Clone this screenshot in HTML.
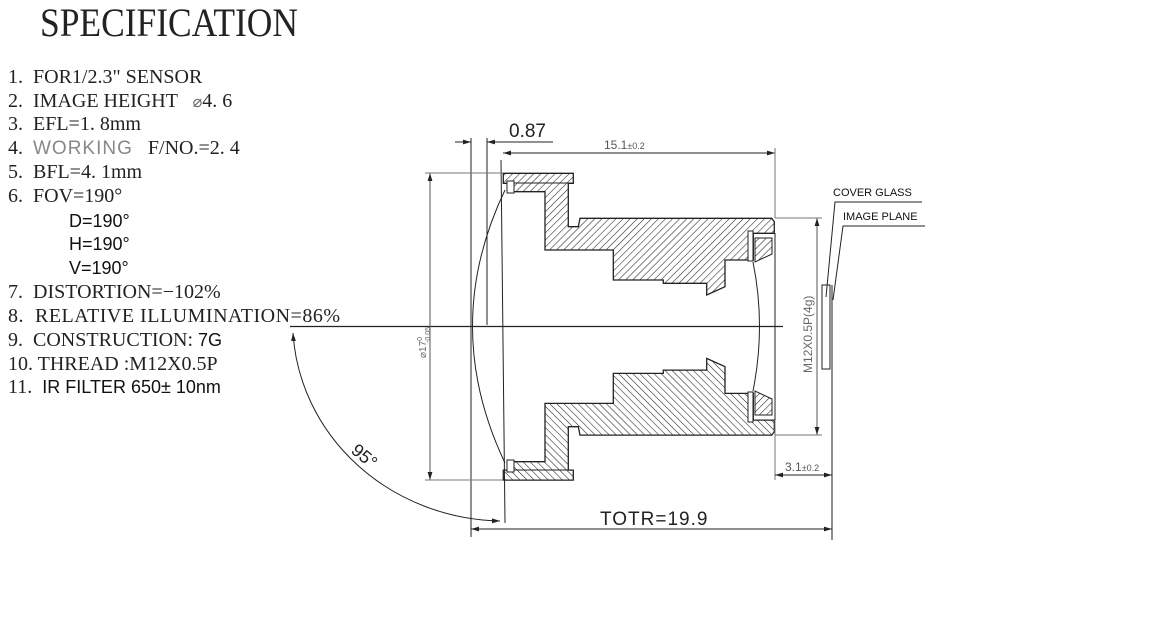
<!DOCTYPE html>
<html><head><meta charset="utf-8"><style>
html,body{margin:0;padding:0;background:#fff;}
svg{display:block;}
text{white-space:pre;}
.s{font-family:"Liberation Serif",serif;font-size:20px;fill:#222;}
.a{font-family:"Liberation Sans",sans-serif;}
</style></head><body>
<svg width="1162" height="623" viewBox="0 0 1162 623" xmlns="http://www.w3.org/2000/svg" xml:space="preserve">
<defs>
<pattern id="h" patternUnits="userSpaceOnUse" width="5" height="5" patternTransform="rotate(45)">
<rect width="5" height="5" fill="#fff"/><line x1="0" y1="0" x2="0" y2="5" stroke="#222" stroke-width="1.1"/>
</pattern>
<marker id="ar" viewBox="0 0 10 10" refX="10" refY="5" markerWidth="8" markerHeight="8" orient="auto-start-reverse"><path d="M0,2 L10,5 L0,8 z" fill="#222"/></marker>
</defs>
<text x="40" y="36" class="s" style="font-size:40px" textLength="258" lengthAdjust="spacingAndGlyphs">SPECIFICATION</text>
<g class="s">
<text x="8" y="83">1.  FOR1/2.3" SENSOR</text>
<text x="8" y="107">2.  IMAGE HEIGHT   <tspan class="a" style="font-size:16px;fill:#666">⌀</tspan>4. 6</text>
<text x="8" y="130">3.  EFL=1. 8mm</text>
<text x="8" y="154">4.  <tspan class="a" style="fill:#888;font-size:19px;letter-spacing:1px">WORKING</tspan>   F/NO.=2. 4</text>
<text x="8" y="178">5.  BFL=4. 1mm</text>
<text x="8" y="202">6.  FOV=190°</text>
<text x="69" y="227" class="a" style="font-size:18px;fill:#111">D=190°</text>
<text x="69" y="250" class="a" style="font-size:18px;fill:#111">H=190°</text>
<text x="69" y="274" class="a" style="font-size:18px;fill:#111">V=190°</text>
<text x="8" y="298">7.  DISTORTION=−102%</text>
<text x="8" y="322" textLength="332" lengthAdjust="spacing">8.  RELATIVE ILLUMINATION=86%</text>
<text x="8" y="346">9.  CONSTRUCTION: <tspan class="a" style="fill:#111;font-size:18px">7G</tspan></text>
<text x="8" y="370">10. THREAD :M12X0.5P</text>
<text x="8" y="393">11.  <tspan class="a" style="fill:#111;font-size:18px">IR FILTER 650± 10nm</tspan></text>
</g>
<g stroke="#222" fill="none" stroke-width="1">
<line x1="290" y1="326.5" x2="783" y2="326.5" stroke-width="1.2"/>
<path fill="url(#h)" stroke-width="1.3" d="M503.3,173.3 L573.3,173.3 L573.3,183.3 L568.3,183.3 L568.3,226.7 L578.3,226.7 L580,218.3 L771.7,218.3 L774.3,221.7 L774.3,233.3 L753.3,233.3 L753.3,260 L725,260 L725,286.7 L706.7,295 L706.7,283.3 L663.3,283.3 L663.3,280 L613.3,280 L613.3,250 L545,250 L545,191.7 L513.3,191.7 L513.3,183.3 L503.3,183.3 Z"/>
<path fill="url(#h)" stroke-width="1.3" transform="translate(0,653.4) scale(1,-1)" d="M503.3,173.3 L573.3,173.3 L573.3,183.3 L568.3,183.3 L568.3,226.7 L578.3,226.7 L580,218.3 L771.7,218.3 L774.3,221.7 L774.3,233.3 L753.3,233.3 L753.3,260 L725,260 L725,286.7 L706.7,295 L706.7,283.3 L663.3,283.3 L663.3,280 L613.3,280 L613.3,250 L545,250 L545,191.7 L513.3,191.7 L513.3,183.3 L503.3,183.3 Z"/>
<path fill="url(#h)" d="M755,238 L772,238 L772,254 L755,262 Z"/>
<path fill="url(#h)" d="M755,415 L772,415 L772,399 L755,391 Z"/>
<rect x="748" y="231" width="5" height="30" fill="#fff"/>
<rect x="748" y="392" width="5" height="30" fill="#fff"/>
<rect x="507" y="181" width="7" height="12" fill="#fff"/>
<rect x="507" y="460" width="7" height="12" fill="#fff"/>
<line x1="514" y1="183" x2="573" y2="183"/><line x1="514" y1="470" x2="573" y2="470"/>
<path d="M505,190 Q440,326 505,463"/>
<path d="M753,262 Q766,326 753,391"/>
<line x1="775" y1="233" x2="775" y2="420"/>
<line x1="471" y1="138" x2="471" y2="537"/>
<line x1="487" y1="138" x2="487" y2="325"/>
<line x1="501" y1="160" x2="505" y2="523"/>
<line x1="455" y1="142" x2="471" y2="142" marker-end="url(#ar)"/>
<line x1="487" y1="142" x2="553" y2="142" marker-start="url(#ar)"/>
<line x1="503" y1="153" x2="775" y2="153" marker-start="url(#ar)" marker-end="url(#ar)"/>
<line x1="775" y1="148" x2="775" y2="218" stroke="#777"/>
<line x1="430" y1="173" x2="430" y2="480" marker-start="url(#ar)" marker-end="url(#ar)" stroke="#555"/>
<line x1="425" y1="173" x2="503" y2="173" stroke="#777"/>
<line x1="425" y1="480" x2="503" y2="480" stroke="#777"/>
<line x1="817" y1="218" x2="817" y2="435" marker-start="url(#ar)" marker-end="url(#ar)" stroke="#555"/>
<line x1="775" y1="218" x2="822" y2="218" stroke="#777"/>
<line x1="775" y1="435" x2="822" y2="435" stroke="#777"/>
<rect x="822" y="285" width="8" height="84" fill="#fff"/>
<line x1="832" y1="285" x2="832" y2="540"/>
<polyline points="922,202 835,202 826,297"/>
<polyline points="925,226 843,226 833,300"/>
<line x1="775" y1="420" x2="775" y2="480" stroke="#777"/>
<line x1="775" y1="475" x2="832" y2="475" marker-start="url(#ar)" marker-end="url(#ar)"/>
<line x1="471" y1="529" x2="832" y2="529" marker-start="url(#ar)" marker-end="url(#ar)"/>
<path d="M293,333 A212,200 0 0 0 500,521" marker-start="url(#ar)" marker-end="url(#ar)"/>
</g>
<text x="509" y="137" class="a" style="font-size:19px;fill:#222">0.87</text>
<text x="604" y="149" class="a" style="font-size:12px;fill:#555">15.1<tspan style="font-size:9px">±0.2</tspan></text>
<text class="a" style="font-size:10px;fill:#666" transform="translate(426,358) rotate(-90)">⌀17<tspan dy="-4" style="font-size:7px">0</tspan><tspan dx="-6" dy="8" style="font-size:7px">-0.05</tspan></text>
<text class="a" style="font-size:12px;fill:#666" transform="translate(812,373) rotate(-90)">M12X0.5P(4g)</text>
<text x="833" y="196" class="a" style="font-size:11px;fill:#111">COVER GLASS</text>
<text x="843" y="220" class="a" style="font-size:11px;fill:#111">IMAGE PLANE</text>
<text x="785" y="471" class="a" style="font-size:12px;fill:#555">3.1<tspan style="font-size:9px">±0.2</tspan></text>
<text x="600" y="525" class="a" style="font-size:19px;fill:#222;letter-spacing:1px">TOTR=19.9</text>
<text class="a" style="font-size:18px;fill:#222" transform="translate(350,452) rotate(40)">95°</text>
</svg>
</body></html>
